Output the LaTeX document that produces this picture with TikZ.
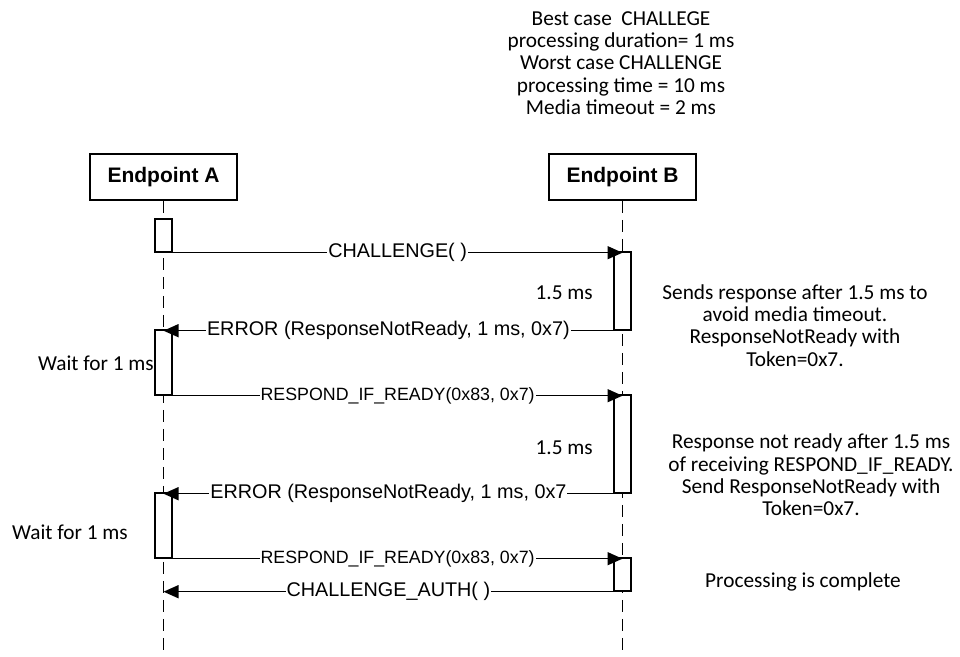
\documentclass[tikz,border=0pt]{standalone}
\usepackage{fontspec}
\setmainfont{Liberation Sans}
\newfontfamily\calib{Carlito}
\usetikzlibrary{arrows.meta,calc}

\begin{document}
\begin{tikzpicture}[x=1pt,y=-1pt,
  every node/.style={inner sep=0pt},
  party/.style={draw, line width=1.5pt, fill=white, minimum width=147pt,
    minimum height=46pt, font=\fontsize{21}{25}\selectfont\bfseries},
  lifeline/.style={line width=1.5pt, dash pattern=on 12pt off 7pt},
  act/.style={draw, line width=1.4pt, fill=white, minimum width=17pt},
  msg/.style={line width=1.4pt, -{Triangle[length=15pt,width=13pt]}},
  lbl/.style={fill=white, inner xsep=1pt, inner ysep=1pt,
    font=\fontsize{19.8}{22}\selectfont},
  lbls/.style={lbl, font=\fontsize{17.8}{20}\selectfont},
  note/.style={font=\calib\fontsize{21.3}{22.3}\selectfont, align=center},
]
\useasboundingbox (0,0) rectangle (960,656);

% participants
\node[party] (A) at (163.5,177) {Endpoint A};
\node[party] (B) at (622.5,177) {Endpoint B};
\coordinate (LA) at (163.5,656);
\coordinate (LB) at (622.5,656);

% lifelines
\draw[lifeline] (A.south) -- (LA);
\draw[lifeline] (B.south) -- (LB);

% activations
\node[act, minimum height=33pt] (a1) at (163.5,235.5) {};
\node[act, minimum height=78pt] (b1) at (622.5,291) {};
\node[act, minimum height=65pt] (a2) at (163.5,362.5) {};
\node[act, minimum height=98pt] (b2) at (622.5,444) {};
\node[act, minimum height=65pt] (a3) at (163.5,525.5) {};
\node[act, minimum height=33pt] (b3) at (622.5,574.5) {};

% messages
\draw[msg] (a1.south east) -- (a1.south east -| LB)
  node[lbl, pos=0.5] (m1) {CHALLENGE( )};
\draw[msg] (b1.south west) -- (b1.south west -| LA)
  node[lbl, pos=0.5] (m2) {ERROR (ResponseNotReady, 1 ms, 0x7)};
\draw[msg] (a2.south east) -- (a2.south east -| LB)
  node[lbls, pos=0.5] (m3) {RESPOND\_IF\_READY(0x83, 0x7)};
\draw[msg] (b2.south west) -- (b2.south west -| LA)
  node[lbl, pos=0.5] (m4) {ERROR (ResponseNotReady, 1 ms, 0x7};
\draw[msg] (a3.south east) -- (a3.south east -| LB)
  node[lbls, pos=0.5] (m5) {RESPOND\_IF\_READY(0x83, 0x7)};
\draw[msg] (b3.south west) -- (b3.south west -| LA)
  node[lbl, pos=0.5] (m6) {CHALLENGE\_AUTH( )};

% timing notes
\node[note] (t0) at (621,63) {Best case\ \ CHALLEGE\\processing duration= 1 ms\\Worst case CHALLENGE\\processing time = 10 ms\\Media timeout = 2 ms};
\node[note, anchor=east] (d1) at (593,293) {1.5 ms};
\node[note, anchor=east] (d2) at (593,448) {1.5 ms};
\node[note, anchor=east] (w1) at (154,363) {Wait for 1 ms};
\node[note, anchor=east] (w2) at (128,532) {Wait for 1 ms};
\node[note] (n1) at (795,325.5) {Sends response after 1.5 ms to\\avoid media timeout.\\ResponseNotReady with\\Token=0x7.};
\node[note] (n2) at (811,475) {Response not ready after 1.5 ms\\of receiving RESPOND\_IF\_READY.\\Send ResponseNotReady with\\Token=0x7.};
\node[note] (n3) at (803,582) {Processing is complete};
\end{tikzpicture}
\end{document}
